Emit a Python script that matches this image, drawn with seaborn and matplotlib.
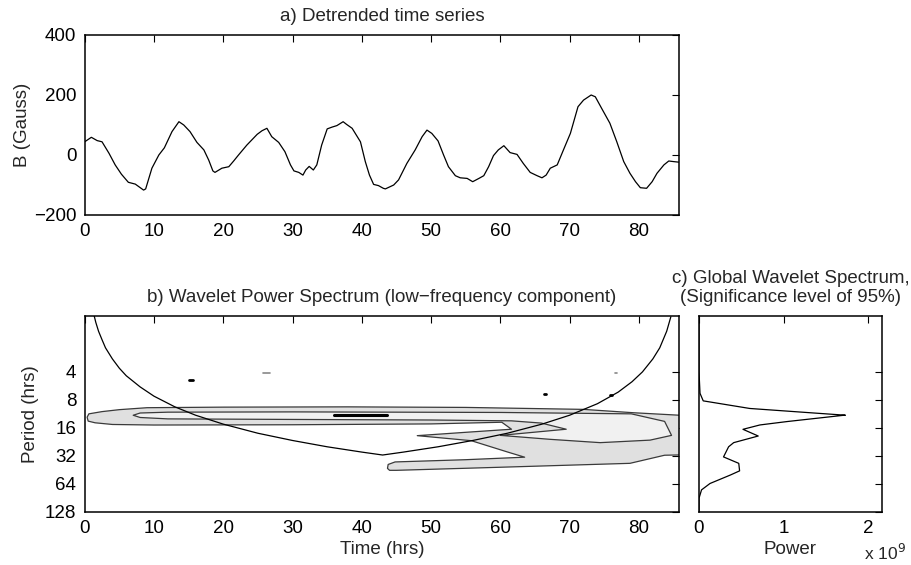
import numpy as np
import pandas as pd
import matplotlib
matplotlib.use("Agg")
import matplotlib.pyplot as plt
import seaborn as sns

# ---------------- data ----------------
time_hrs = [0, 0.96, 1.8, 2.5, 3.5, 4.4, 5.3, 6.3, 7.3, 8.5, 8.8, 9.7, 10.7, 11.5, 12.6,
            13.6, 14.3, 15.2, 16.2, 17.2, 17.9, 18.5, 18.8, 19.8, 20.8, 21.5,
            22.2, 23.4, 24.9, 25.6, 26.3, 27.0, 28.0, 28.9, 29.7, 30.2, 30.9, 31.5, 31.9,
            32.4, 33.0, 33.5, 34.2, 35.0, 35.7, 36.4, 37.3, 37.8, 38.6, 39.8, 40.5, 41.1,
            41.7, 42.4, 43.1,
            43.4, 44.6, 45.3, 46.5, 47.7, 48.7, 49.4, 50.1, 51.0, 51.8, 52.5, 53.5, 54.2,
            55.2, 56.0, 56.9, 57.6, 58.3, 59.0, 59.7, 60.5, 61.4, 62.4, 63.3, 64.3,
            65.3, 66.0, 66.6, 67.2, 68.2, 69.1, 70.1, 71.2, 72.0, 73.1, 73.7, 74.6, 75.8,
            76.8, 77.8, 78.7, 79.5, 80.2, 81.1, 81.9, 82.6, 83.6, 84.3, 85.0, 85.8]
b_gauss = [44, 59, 48, 44, 6, -33, -64, -91, -97, -117, -113, -44, 0, 24, 78,
           111, 100, 78, 42, 17, -17, -53, -58, -44, -39, -20,
           0, 33, 69, 81, 89, 61, 42, 11, -33, -53, -58, -67, -50,
           -38, -50, -33, 33, 87, 93, 98, 111, 102, 89, 44, -22, -67,
           -98, -102, -111,
           -113, -100, -83, -28, 17, 61, 83, 72, 47, 0, -39, -69, -76,
           -78, -89, -78, -69, -39, -2, 17, 31, 8, 2, -28, -58,
           -69, -76, -67, -44, -33, 17, 72, 161, 183, 200, 194, 156, 106,
           44, -22, -61, -89, -109, -111, -89, -61, -33, -20, -22, -24]

# cone of influence
coi_time = [1.3, 1.6, 2.0, 2.5, 3.0, 4.0, 5.0, 6.0, 8.0, 10.0, 13.0, 16.0, 20.0, 25.0,
            30.0, 35.0, 40.0, 43.0, 46.0, 51.0, 56.0, 61.0, 66.0, 70.0, 74.0, 77.0,
            79.0, 80.5, 82.0, 83.0, 84.0, 84.6]
coi_period = [0.95, 1.17, 1.46, 1.8, 2.2, 2.9, 3.65, 4.4, 5.8, 7.3, 9.5, 11.7, 14.6, 18.3,
              21.9, 25.6, 29.2, 31.4, 29.2, 25.6, 21.9, 18.3, 14.6, 11.7, 8.8, 6.6,
              5.1, 4.0, 2.9, 2.2, 1.46, 1.02]

# outer (lower) power contour, vertices: time, log2(period)
outer_time = [0.35, 0.6, 2.5, 5.0, 9.0, 20.0, 38.0, 55.0, 72.0, 79.2, 85.9,
              85.9, 83.7, 78.7, 60.0, 45.0, 44.0, 43.7, 43.8,
              44.8, 55.0, 63.5, 61.1, 55.8, 48.0, 55.0, 61.6, 60.2,
              50.0, 30.0, 10.0, 4.0, 1.5, 0.5]
outer_log2p = [3.62, 3.50, 3.42, 3.35, 3.28, 3.26, 3.25, 3.27, 3.34, 3.46, 3.55,
               4.97, 4.98, 5.27, 5.41, 5.52, 5.52, 5.45, 5.31,
               5.22, 5.14, 5.05, 4.87, 4.46, 4.28, 4.16, 4.05, 3.80,
               3.86, 3.89, 3.90, 3.88, 3.82, 3.76]

# inner (higher) power contour
inner_time = [7.0, 8.0, 12.0, 30.0, 45.0, 60.0, 78.9, 83.7, 84.7,
              81.6, 74.4, 67.1, 60.0, 69.5, 65.9, 61.6, 50.0, 30.0, 12.0, 8.0]
inner_log2p = [3.55, 3.47, 3.44, 3.43, 3.44, 3.45, 3.50, 3.77, 4.27,
               4.44, 4.53, 4.41, 4.27, 4.05, 3.83, 3.75, 3.72, 3.70, 3.68, 3.63]

# peak contour (thin) and small isolated contours
peak_time = [36.0, 43.6]
peak_period = [11.5, 11.5]
speck_black = [([15.1, 15.6], [4.85, 4.85]), ([66.3, 66.6], [7.0, 7.0]),
               ([75.8, 76.1], [7.1, 7.1])]
speck_gray = [([25.8, 26.8], [4.1, 4.1]), ([76.5, 76.9], [4.1, 4.1])]

# global wavelet spectrum (power x 1e9)
gws_period = [1.0, 4.0, 6.8, 8.2, 9.9, 11.0, 11.7, 11.75, 13.7, 14.9, 16.6, 19.6, 23.1,
              25.6, 32.9, 38.6, 46.5, 51.6, 63.6, 74.5, 91.8, 128.0]
gws_power = [0.0, 0.0, 0.012, 0.05, 0.60, 1.31, 1.73, 1.70, 1.04, 0.72, 0.52, 0.70, 0.41,
             0.35, 0.29, 0.47, 0.48, 0.37, 0.13, 0.03, 0.0, 0.0]

# ---------------- style ----------------
sns.set_theme(style="white")
plt.rcParams['font.family'] = ['Liberation Sans', 'DejaVu Sans']
plt.rcParams['axes.unicode_minus'] = True
FS = 13.5

W, H = 911, 565
fig = plt.figure(figsize=(W / 100, H / 100), dpi=100)
fig.patch.set_facecolor('white')


def ax_rect(x0, y0, x1, y1):
    return [x0 / W, 1 - y1 / H, (x1 - x0) / W, (y1 - y0) / H]


def style_axes(ax):
    for s in ax.spines.values():
        s.set_visible(True)
        s.set_color('black')
        s.set_linewidth(1.1)
    ax.tick_params(direction='in', length=5, width=0.8, top=True, right=True,
                   labelsize=FS, colors='black', pad=6)
    ax.minorticks_off()


# ---------------- a) time series ----------------
ax1 = fig.add_axes(ax_rect(84.7, 35, 679.5, 215))
df_ts = pd.DataFrame({'t': time_hrs, 'b': b_gauss})
sns.lineplot(data=df_ts, x='t', y='b', ax=ax1, color='black', linewidth=0.9,
             sort=False, estimator=None)
ax1.set_xlim(0, 85.85)
ax1.set_ylim(-200, 400)
ax1.set_xticks(range(0, 81, 10))
ax1.set_yticks([-200, 0, 200, 400])
ax1.set_xlabel('')
ax1.set_ylabel('B (Gauss)', fontsize=FS, labelpad=2)
ax1.set_title('a) Detrended time series', fontsize=FS, pad=10)
style_axes(ax1)

# ---------------- b) wavelet power spectrum ----------------
ax2 = fig.add_axes(ax_rect(84.7, 316, 679.5, 511.7))
ax2.set_yscale('log', base=2)
outer_period = [2 ** v for v in outer_log2p]
inner_period = [2 ** v for v in inner_log2p]
ax2.fill(outer_time, outer_period, facecolor='#e0e0e0', edgecolor='#3a3a3a',
         linewidth=0.9, joinstyle='round', zorder=1)
ax2.fill(inner_time, inner_period, facecolor='#f1f1f1', edgecolor='#3a3a3a',
         linewidth=0.9, joinstyle='round', zorder=2)
sns.lineplot(x=peak_time, y=peak_period, ax=ax2, color='black', linewidth=2.2,
             sort=False, estimator=None, zorder=3)
for xs, ys in speck_black:
    sns.lineplot(x=xs, y=ys, ax=ax2, color='black', linewidth=2.0,
                 sort=False, estimator=None, zorder=3)
for xs, ys in speck_gray:
    sns.lineplot(x=xs, y=ys, ax=ax2, color='#888888', linewidth=1.2,
                 sort=False, estimator=None, zorder=3)
sns.lineplot(x=coi_time, y=coi_period, ax=ax2, color='black', linewidth=0.9,
             sort=False, estimator=None, zorder=4)
ax2.set_xlim(0, 85.85)
ax2.set_ylim(128, 1)
yt = [4, 8, 16, 32, 64, 128]
ax2.set_yticks(yt)
ax2.set_yticklabels([str(v) for v in yt])
ax2.set_xticks(range(0, 81, 10))
ax2.set_xlabel('Time (hrs)', fontsize=FS, labelpad=3)
ax2.set_ylabel('Period (hrs)', fontsize=FS, labelpad=4)
ax2.set_title('b) Wavelet Power Spectrum (low\u2212frequency component)',
              fontsize=FS, pad=10)
style_axes(ax2)

# ---------------- c) global wavelet spectrum ----------------
ax3 = fig.add_axes(ax_rect(699, 316, 881.7, 511.7))
ax3.set_yscale('log', base=2)
sns.lineplot(x=gws_power, y=gws_period, ax=ax3, color='black', linewidth=0.9,
             sort=False, estimator=None, orient='y')
ax3.set_ylim(128, 1)
ax3.set_xlim(0, 2.16)
ax3.set_yticks(yt)
ax3.set_yticklabels([])
ax3.set_xticks([0, 1, 2])
ax3.set_xticklabels(['0', '1', '2'])
ax3.set_xlabel('Power', fontsize=FS, labelpad=3)
ax3.set_ylabel('')
ax3.set_title('c) Global Wavelet Spectrum,\n(Significance level of 95%)',
              fontsize=FS, pad=10, linespacing=1.2)
style_axes(ax3)
ax3.text(1.13, -0.248, 'x 10$^9$', transform=ax3.transAxes, ha='right',
         va='baseline', fontsize=FS - 1)

fig.savefig('out.png', dpi=100, facecolor='white')
